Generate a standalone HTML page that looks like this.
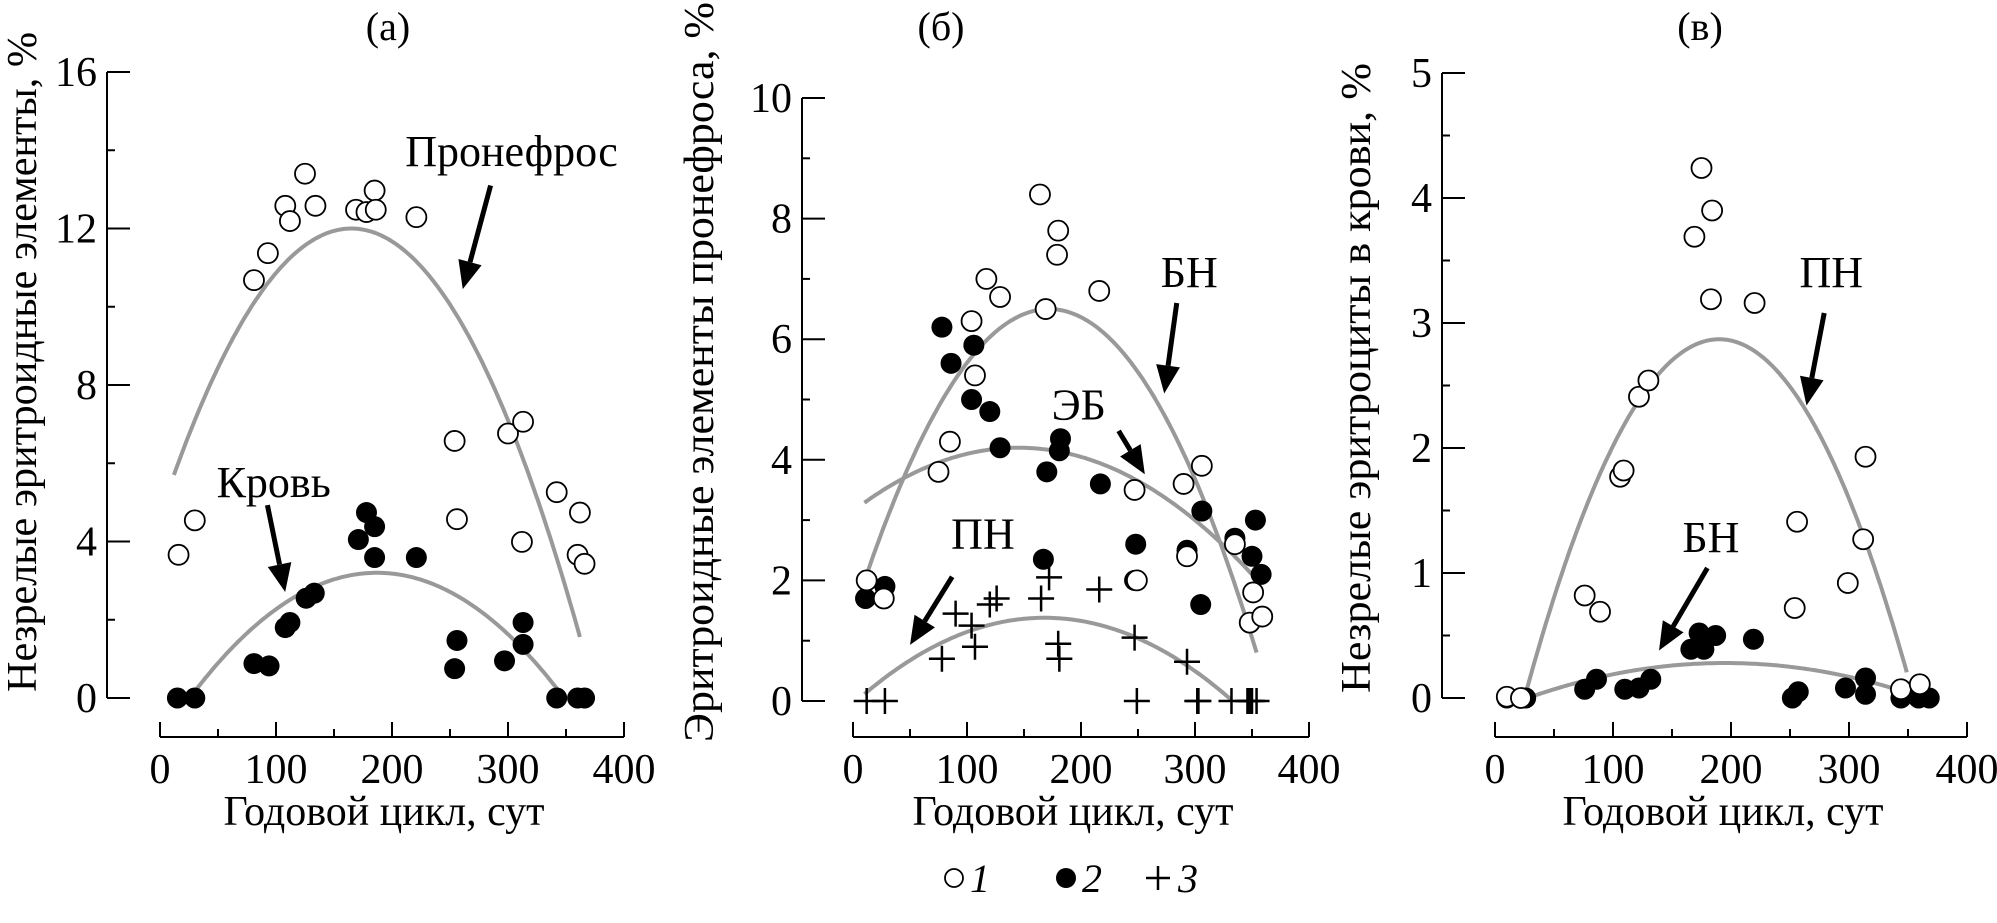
<!DOCTYPE html>
<html><head><meta charset="utf-8">
<style>
html,body{margin:0;padding:0;background:#fff;}
svg{display:block;font-family:"Liberation Serif",serif;}
</style></head>
<body>
<svg id="chart" width="1997" height="923" viewBox="0 0 1997 923" xmlns="http://www.w3.org/2000/svg"></svg>
<script>
// ---- Panel (a) data ----
const aOpenX = [16,30,81,93,108,112,125,134,169,178,185,186,221,254,256,300,313,312,342,362,360,366];
const aOpenY = [3.66,4.54,10.68,11.37,12.58,12.19,13.4,12.58,12.48,12.42,12.97,12.48,12.29,6.57,4.57,6.76,7.06,3.99,5.26,4.74,3.66,3.43];
const aFillX = [15,30,81,94,108,112,126,133,171,178,185,185,221,254,256,297,313,313,342,360,366];
const aFillY = [0,0,0.88,0.82,1.8,1.93,2.55,2.68,4.05,4.74,4.38,3.59,3.59,0.75,1.47,0.95,1.37,1.93,0,0,0];
// ---- Panel (b) data ----
const bOpenX = [12,27,75,85,104,107,117,129,164,169,180,179,216,247,249,290,293,306,335,348,351,359];
const bOpenY = [2.0,1.7,3.8,4.3,6.3,5.4,7.0,6.7,8.4,6.5,7.8,7.4,6.8,3.5,2.0,3.6,2.4,3.9,2.6,1.3,1.8,1.4];
const bFillX = [11,28,78,86,104,106,120,129,167,170,182,181,217,248,247,293,306,305,335,350,353,358];
const bFillY = [1.7,1.9,6.2,5.6,5.0,5.9,4.8,4.2,2.35,3.8,4.35,4.15,3.6,2.6,2.0,2.5,3.15,1.6,2.7,2.4,3.0,2.1];
const bPlusX = [12,28,78,90,104,107,120,126,165,172,180,181,216,247,249,293,302,303,332,346,348,350,354];
const bPlusY = [0,0,0.7,1.45,1.25,0.9,1.6,1.7,1.7,2.05,0.95,0.7,1.85,1.05,0,0.65,0,0,0,0,0,0,0];
// ---- Panel (в) data ----
const cOpenX = [10,22,76,89,106,109,122,130,169,175,184,183,220,254,256,299,312,314,344,360];
const cOpenY = [0.01,0,0.82,0.69,1.77,1.82,2.41,2.54,3.69,4.24,3.9,3.19,3.16,0.72,1.41,0.92,1.27,1.93,0.07,0.11];
const cFillX = [10,26,76,86,110,122,132,166,173,187,177,219,252,257,297,314,314,344,359,368];
const cFillY = [0,0,0.07,0.15,0.07,0.08,0.15,0.39,0.52,0.5,0.39,0.47,0,0.05,0.08,0.16,0.03,0,0,0];
// ---- fitted curves: [peakX, peakY, curvature, xStart, xEnd] ----
const aCurvePro = [165,12,2.69e-4,12,362];
const aCurveBlood = [187,3.2,1.23e-4,27,345];
const bCurveBN = [172,6.5,1.72e-4,10,355];
const bCurveEB = [145,4.2,5.0e-5,10,355];
const bCurvePN = [168,1.38,5.07e-5,10,333];
const cCurvePN = [190,2.87,1.054e-4,25,350];
const cCurveBN = [195,0.28,1.0e-5,30,345];
const xTicks = [0,100,200,300,400];
const aYTicks = [0,4,8,12,16];
const bYTicks = [0,2,4,6,8,10];
const cYTicks = [0,1,2,3,4,5];

const NS="http://www.w3.org/2000/svg";
const svg=document.getElementById('chart');
function el(tag,attrs,parent){const e=document.createElementNS(NS,tag);for(const k in attrs)e.setAttribute(k,attrs[k]);(parent||svg).appendChild(e);return e;}

function panel(cfg){
  const g=el('g',{});
  
  
  const X=v=>cfg.x0+(v/400)*(cfg.x400-cfg.x0);
  const Y=v=>cfg.y0-(v/cfg.ymax)*(cfg.y0-cfg.ytop);
  const ya=el('path',{d:`M${cfg.ax} ${cfg.ytop}V${cfg.y0}`,stroke:'#000','stroke-width':2,fill:'none'},g);
  
  
  cfg.yTicks.forEach(t=>{
    el('path',{d:`M${cfg.ax} ${Y(t)}h23`,stroke:'#000','stroke-width':2},g);
    const tx=el('text',{x:cfg.ax-10,y:Y(t)+14,'text-anchor':'end','font-size':42},g);
    tx.textContent=t;
    
    
  });
  for(let i=0;i<cfg.yTicks.length-1;i++){
    const m=(cfg.yTicks[i]+cfg.yTicks[i+1])/2;
    el('path',{d:`M${cfg.ax} ${Y(m)}h8`,stroke:'#000','stroke-width':2},g);
  }
  const xa=el('path',{d:`M${X(0)} ${cfg.xa}H${X(400)}`,stroke:'#000','stroke-width':2,fill:'none'},g);
  
  
  xTicks.forEach(t=>{
    el('path',{d:`M${X(t)} ${cfg.xa}v-15`,stroke:'#000','stroke-width':2},g);
    if(t<400) el('path',{d:`M${X(t+50)} ${cfg.xa}v-8`,stroke:'#000','stroke-width':2},g);
    const tx=el('text',{x:X(t),y:cfg.xa+46,'text-anchor':'middle','font-size':42},g);
    tx.textContent=t;
    
    
  });
  const xt=el('text',{x:(X(0)+X(400))/2-8,y:cfg.xa+88,'text-anchor':'middle','font-size':42},g);
  xt.textContent='Годовой цикл, сут';
  
  
  const yt=el('text',{x:0,y:0,'text-anchor':'middle','font-size':42,textLength:cfg.ytLen,lengthAdjust:'spacingAndGlyphs',transform:`translate(${cfg.ytx},${cfg.yty}) rotate(-90)`},g);
  yt.textContent=cfg.ytitle;
  
  
  const pt=el('text',{x:cfg.titleX,y:40,'text-anchor':'middle','font-size':40},g);
  pt.textContent=cfg.title;
  
  
  cfg.curves.forEach(c=>{
    let d='';
    for(let x=c[3];x<=c[4]+0.01;x+=2){const y=Math.max(0,c[1]-c[2]*(x-c[0])*(x-c[0]));d+=(d?'L':'M')+X(x).toFixed(1)+' '+Y(y).toFixed(1);}
    const p=el('path',{d,stroke:'#999','stroke-width':4,fill:'none'},g);
    
    
  });
  (cfg.fill||[[],[]])[0].forEach((x,i)=>{
    const c=el('circle',{cx:X(x),cy:Y(cfg.fill[1][i]),r:10.5,fill:'#000'},g);
    
    
  });
  (cfg.open||[[],[]])[0].forEach((x,i)=>{
    const c=el('circle',{cx:X(x),cy:Y(cfg.open[1][i]),r:10,fill:'#fff',stroke:'#000','stroke-width':1.8},g);
    
    
  });
  if(cfg.plus) cfg.plus[0].forEach((x,i)=>{
    const cx=X(x),cy=Y(cfg.plus[1][i]);
    const p=el('path',{d:`M${cx-13} ${cy}h26M${cx} ${cy-13}v26`,stroke:'#000','stroke-width':2.5},g);
    
    
  });
  cfg.notes.forEach(n=>{
    const t=el('text',{x:X(n.tx),y:Y(n.ty)+14,'text-anchor':'middle','font-size':44},g);
    t.textContent=n.text;
    
    
    const x1=X(n.a[0]),y1=Y(n.a[1]),x2=X(n.a[2]),y2=Y(n.a[3]);
    const dx=x2-x1,dy=y2-y1,L=Math.hypot(dx,dy),ux=dx/L,uy=dy/L;
    const hx=x2-ux*28,hy=y2-uy*28;
    el('path',{d:`M${x1} ${y1}L${hx} ${hy}`,stroke:'#000','stroke-width':5},g);
    const ar=el('path',{d:`M${x2} ${y2}L${hx-uy*12} ${hy+ux*12}L${hx+uy*12} ${hy-ux*12}Z`,fill:'#000'},g);
    
    
  });
}

panel({name:'panel-a',title:'(а)',titleX:388,ax:107,x0:160,x400:624,y0:698,ytop:72,ymax:16,xa:737,
  yTicks:aYTicks,ytitle:'Незрелые эритроидные элементы, %',ytx:36,yty:362,ytLen:660,
  open:[aOpenX,aOpenY],fill:[aFillX,aFillY],curves:[aCurvePro,aCurveBlood],
  notes:[{text:'Пронефрос',tx:303,ty:13.95,a:[285,13.1,261,10.45]},{text:'Кровь',tx:98,ty:5.5,a:[92.6,4.93,107.9,2.71]}]});
panel({name:'panel-b',title:'(б)',titleX:941,ax:802,x0:853,x400:1309,y0:701,ytop:98,ymax:10,xa:737,
  yTicks:bYTicks,ytitle:'Эритроидные элементы пронефроса, %',ytx:713,yty:372,ytLen:740,
  open:[bOpenX,bOpenY],fill:[bFillX,bFillY],plus:[bPlusX,bPlusY],curves:[bCurveBN,bCurveEB,bCurvePN],
  notes:[{text:'БН',tx:295,ty:7.1,a:[284,6.6,273,5.1]},{text:'ЭБ',tx:198,ty:4.9,a:[233,4.48,256,3.76]},{text:'ПН',tx:114,ty:2.76,a:[87,2.06,50,0.93]}]});
panel({name:'panel-c',title:'(в)',titleX:1700,ax:1442,x0:1495,x400:1967,y0:698,ytop:73,ymax:5,xa:737,
  yTicks:cYTicks,ytitle:'Незрелые эритроциты в крови, %',ytx:1370,yty:378,ytLen:630,
  open:[cOpenX,cOpenY],fill:[cFillX,cFillY],curves:[cCurvePN,cCurveBN],
  notes:[{text:'ПН',tx:285,ty:3.4,a:[279,3.08,264,2.34]},{text:'БН',tx:183,ty:1.28,a:[180,1.04,139,0.38]}]});

const lg=el('g',{});


el('circle',{cx:954,cy:878,r:9,fill:'#fff',stroke:'#000','stroke-width':1.8},lg);
const l1=el('text',{x:970,y:892,'font-size':40,'font-style':'italic'},lg);l1.textContent='1';


el('circle',{cx:1066,cy:878,r:10,fill:'#000'},lg);
const l2=el('text',{x:1082,y:892,'font-size':40,'font-style':'italic'},lg);l2.textContent='2';


el('path',{d:'M1146 878h24M1158 866v24',stroke:'#000','stroke-width':2.5},lg);
const l3=el('text',{x:1178,y:892,'font-size':40,'font-style':'italic'},lg);l3.textContent='3';


</script>
</body></html>
